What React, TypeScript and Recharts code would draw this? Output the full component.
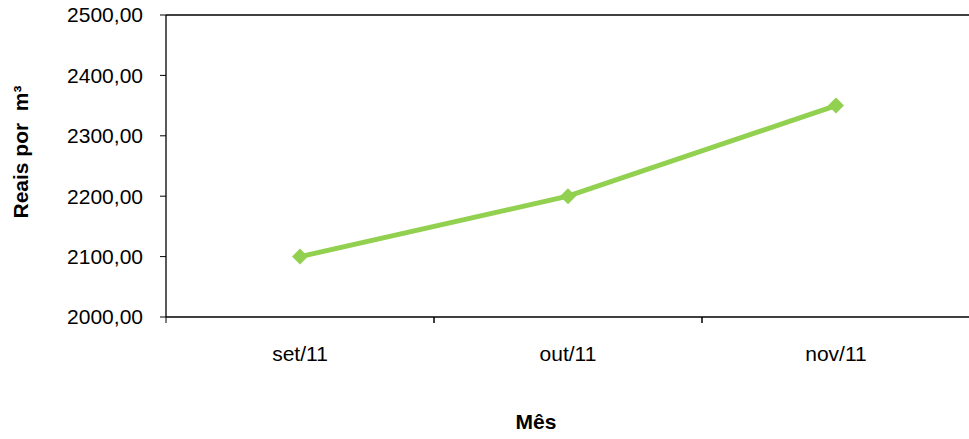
import React from 'react'
import { LineChart, Line, XAxis, YAxis, ReferenceLine, Label } from 'recharts'

const months = ['set/11', 'out/11', 'nov/11']
const prices = [2100, 2200, 2350]
const yTicks = [2000, 2100, 2200, 2300, 2400, 2500]

const data = months.map((m, i) => ({ mes: m, valor: prices[i] }))

const FONT = '"Liberation Sans", Arial, sans-serif'
const GREEN = '#92D050'
const FS = 21
const X_MARGIN = 29

const fmt = (v: number) => v.toFixed(2).replace('.', ',')

const Diamond = (props: any) => {
  const { cx, cy } = props
  if (cx == null || cy == null) return null
  const r = 8
  return (
    <polygon
      points={`${cx},${cy - r} ${cx + r},${cy} ${cx},${cy + r} ${cx - r},${cy}`}
      fill={GREEN}
    />
  )
}

// rótulo da categoria + traço de divisão à esquerda da faixa
const MonthTick = (props: any) => {
  const { x, y, payload } = props
  const half = payload && payload.offset ? payload.offset : 134
  const axisY = y - X_MARGIN
  return (
    <g>
      <line x1={x - half} x2={x - half} y1={axisY} y2={axisY + 6} stroke="#000" strokeWidth={1} />
      <line x1={x + half} x2={x + half} y1={axisY} y2={axisY + 6} stroke="#000" strokeWidth={1} />
      <text x={x} y={y} dy="0.71em" textAnchor="middle" fontFamily={FONT} fontSize={FS} fill="#000">
        {payload.value}
      </text>
    </g>
  )
}

export default function App() {
  return (
    <div style={{ position: 'absolute', left: 0, top: 0 }}>
      <LineChart width={975} height={439} data={data} margin={{ top: 15, right: 5, left: 0, bottom: 0 }}>
        <XAxis
          dataKey="mes"
          scale="band"
          height={122}
          axisLine={{ stroke: '#000', strokeWidth: 1.3 }}
          tickLine={false}
          tickSize={0}
          tickMargin={X_MARGIN}
          interval={0}
          tick={<MonthTick />}
        >
          <Label
            content={() => (
              <text x={536} y={429} textAnchor="middle" fontFamily={FONT} fontSize={FS} fontWeight="bold" fill="#000">
                Mês
              </text>
            )}
          />
        </XAxis>
        <YAxis
          width={166}
          domain={[2000, 2500]}
          ticks={yTicks}
          tickFormatter={fmt}
          tickSize={6}
          tickMargin={17}
          axisLine={{ stroke: '#000', strokeWidth: 1.3 }}
          tickLine={{ stroke: '#000', strokeWidth: 1 }}
          tick={{ fill: '#000', fontSize: FS, fontFamily: FONT }}
        >
          <Label
            content={() => (
              <text
                x={28}
                y={152}
                transform="rotate(-90 28 152)"
                textAnchor="middle"
                fontFamily={FONT}
                fontSize={FS}
                fontWeight="bold"
                fill="#000"
                style={{ whiteSpace: 'pre' }}
              >
                Reais por  m³
              </text>
            )}
          />
        </YAxis>
        <ReferenceLine y={2500} stroke="#000" strokeWidth={1.3} />
        <Line
          type="linear"
          dataKey="valor"
          stroke={GREEN}
          strokeWidth={5}
          dot={<Diamond />}
          activeDot={false}
          isAnimationActive={false}
        />
      </LineChart>
    </div>
  )
}
